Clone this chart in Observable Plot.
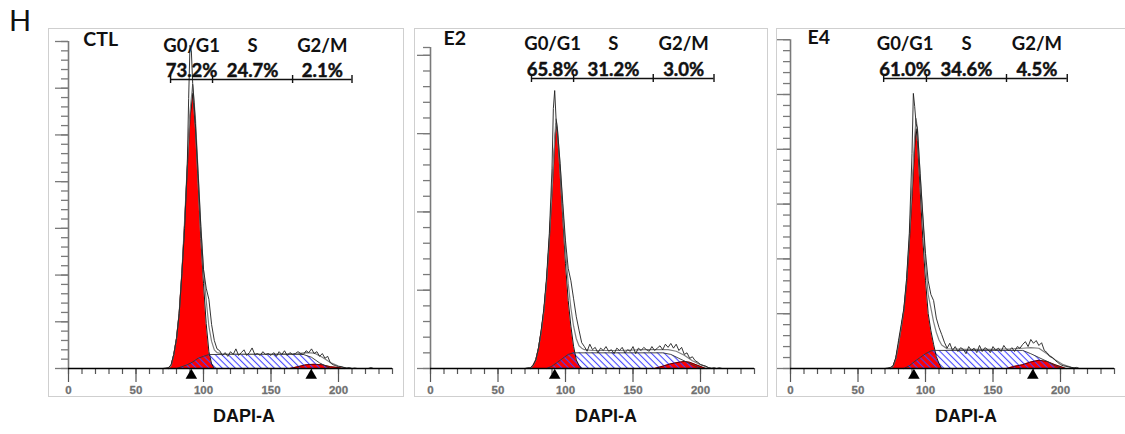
<!DOCTYPE html>
<html>
<head>
<meta charset="utf-8">
<script src="https://cdn.jsdelivr.net/npm/d3@7"></script>
<script src="https://cdn.jsdelivr.net/npm/@observablehq/plot@0.6"></script>
<style>
  body { margin: 0; background: #fff; }
  #fig { position: relative; width: 1125px; height: 434px; overflow: hidden; background: #fff; }
  #title { position: absolute; left: 9px; top: 5px; font: 29px Lato, "Open Sans", sans-serif; line-height: 29px; color: #111; }
  .frame { position: absolute; top: 28px; height: 369px; border: 1px solid #cfcfcf; box-sizing: border-box; }
  .panel { position: absolute; top: 28px; }
</style>
</head>
<body>
<svg width="0" height="0" style="position:absolute">
  <defs>
    <!-- S-phase hatching: thin blue diagonals -->
    <pattern id="sHatch" patternUnits="userSpaceOnUse" width="4.6" height="4.6" patternTransform="rotate(-45)">
      <line x1="2.3" y1="0" x2="2.3" y2="4.6" stroke="#4343ff" stroke-width="1.1"></line>
    </pattern>
  </defs>
</svg>
<div id="fig"><div id="title">H</div></div>
<script>
// ---- Cell-cycle DAPI histograms (DAPI-A channel vs. cell count) ----
const sampleNames = ["CTL", "E2", "E4"];
const phaseNames = ["G0/G1", "S", "G2/M"];
const xTickLabels = [0, 50, 100, 150, 200];
const xMinorTicks = d3.range(0, 241, 10);

// CTL
const ctlPercents = ["73.2%", "24.7%", "2.1%"];
const ctlGates = [75.6, 106.7, 166, 210];
const ctlPeaks = [91, 179.8];
const ctlRaw = [[0,0],[70,0],[72,0.5],[74,1],[76,4],[78,15],[80,32],[82,59],[84,102],[86,150],[88,219],[89,289],[90,346],[91,340],[92,305],[93,285],[94,262],[96,209],[98,152],[100,106],[102,86],[104,74],[106,47],[108,30],[110,21],[112,19],[114,14],[116,17],[118,13],[120,18],[122,15],[124,21],[126,14],[128,17],[130,20],[132,14],[134,17],[136,22],[138,15],[140,16],[142,14],[144,18],[146,15],[148,16],[150,14],[152,17],[154,13],[156,18],[158,15],[160,19],[162,14],[164,17],[166,15],[168,16],[170,18],[172,16],[174,15],[176,19],[178,17],[180,21],[182,16],[184,18],[186,13],[188,16],[190,11],[192,13],[194,6],[196,4],[198,3],[200,2],[202,2],[204,1],[206,0.5],[208,1],[210,0],[212,0.5],[214,0],[222,0],[224,1],[226,0],[240,0]];
const ctlFit = [[74,0],[76,3],[78,15],[80,32],[82,60],[84,103],[86,158],[88,218],[90,275],[92,304],[94,268],[96,210],[98,152],[100,105],[102,73],[104,45],[106,29],[108,20],[110,17],[114,15.5],[130,15.5],[150,15.5],[170,16],[176,17],[182,16.5],[188,12],[194,6.5],[200,2.7],[206,0.5],[210,0]];
const ctlG1 = [[74,0],[76,3],[78,15],[80,32],[82,59],[84,102],[86,155],[88,214],[90,268],[92,295],[94,257],[96,198],[98,139],[100,91],[102,48],[104,18],[106,5],[108,0]];
const ctlS = [[80,0],[84,2],[88,4],[92,7],[96,11],[100,13],[104,15],[174,15],[180,12],[186,6],[190,3],[194,0]];
const ctlG2 = [[164,0],[170,2],[176,4],[182,4.5],[188,4],[194,2],[200,1],[204,0]];

// E2
const e2Percents = ["65.8%", "31.2%", "3.0%"];
const e2Gates = [74.8, 106, 165, 210];
const e2Peaks = [92];
const e2Raw = [[0,0],[70,0],[72,1],[74,1],[76,4],[78,11],[80,26],[82,49],[84,77],[86,117],[88,172],[90,255],[91,332],[92,355],[93,319],[94,306],[96,262],[98,211],[100,163],[102,128],[104,112],[106,89],[108,66],[110,49],[112,33],[114,28],[116,22],[118,31],[120,24],[122,27],[124,20],[126,26],[128,23],[130,28],[132,22],[134,24],[136,19],[138,26],[140,23],[142,27],[144,20],[146,24],[148,22],[150,28],[152,19],[154,26],[156,23],[158,27],[160,24],[162,22],[164,28],[166,23],[168,26],[170,29],[172,24],[174,31],[176,27],[178,32],[180,26],[182,31],[184,23],[186,27],[188,18],[190,20],[192,13],[194,15],[196,10],[198,8],[200,5],[202,4],[204,3],[206,1],[208,0],[210,1],[212,0],[214,1],[216,0],[240,0]];
const e2Fit = [[74,0],[76,4],[78,11],[80,26],[82,47],[84,74],[86,112],[88,166],[90,227],[92,294],[93,319],[94,306],[96,259],[98,204],[100,151],[102,109],[104,77],[106,54],[108,38],[110,29],[112,26],[114,24],[120,23],[140,23],[160,24],[170,24],[176,24],[182,22],[188,17],[194,10],[200,5],[206,1],[210,0]];
const e2G1 = [[74,0],[76,4],[78,11],[80,26],[82,47],[84,74],[86,112],[88,163],[90,223],[92,287],[93,313],[94,300],[96,249],[98,192],[100,134],[102,87],[104,54],[106,28],[108,11],[110,4],[112,0]];
const e2S = [[86,0],[90,3],[94,8],[98,13],[102,18],[106,20],[172,20],[178,18],[184,13],[190,8],[196,3],[201,0]];
const e2G2 = [[166,0],[172,3],[178,6],[184,8],[188,9],[192,8],[198,4],[204,0]];

// E4
const e4Percents = ["61.0%", "34.6%", "4.5%"];
const e4Gates = [69, 100.7, 160, 205];
const e4Peaks = [91.4, 179.5];
const e4Raw = [[0,0],[70,0],[72,1],[74,2],[76,5],[78,20],[80,51],[82,80],[84,110],[86,164],[88,246],[90,392],[91,502],[92,478],[93,447],[94,438],[96,356],[98,280],[100,210],[102,160],[104,135],[106,124],[108,92],[110,75],[112,62],[114,48],[116,37],[118,46],[120,33],[122,40],[124,31],[126,38],[128,35],[130,27],[132,40],[134,33],[136,37],[138,29],[140,42],[142,31],[144,38],[146,35],[148,29],[150,40],[152,33],[154,37],[156,31],[158,42],[160,35],[162,33],[164,38],[166,31],[168,40],[170,37],[172,44],[174,49],[176,40],[178,53],[180,46],[182,51],[184,42],[186,47],[188,33],[190,29],[192,22],[194,20],[196,15],[198,11],[200,7],[202,5],[204,4],[206,3],[208,2],[210,1],[212,2],[214,0],[240,0]];
const e4Fit = [[74,0],[76,4],[78,18],[80,44],[82,75],[84,108],[86,161],[88,237],[90,329],[92,423],[93,456],[94,438],[96,356],[98,274],[100,192],[102,135],[104,110],[106,85],[108,66],[110,52],[112,43],[116,36],[130,35],[150,35],[165,36],[172,37],[178,38],[184,37],[190,27],[196,16],[202,7],[208,2],[212,0]];
const e4G1 = [[74,0],[76,4],[78,18],[80,44],[82,73],[84,106],[86,155],[88,228],[90,314],[92,405],[93,438],[94,416],[96,329],[98,237],[100,161],[102,100],[104,69],[106,44],[108,22],[110,9],[112,0]];
const e4S = [[84,0],[88,5],[92,13],[96,20],[100,27],[104,32],[106,33],[172,33],[178,27],[184,20],[190,13],[196,5],[201,0]];
const e4G2 = [[160,0],[166,4],[172,7],[178,12],[184,15],[190,13],[196,7],[202,2],[204,0]];

// Panel layout (pixels) and per-panel count scale
const panels = [
  {name: sampleNames[0], raw: ctlRaw, fit: ctlFit, g1: ctlG1, s: ctlS, g2: ctlG2, gates: ctlGates, peaks: ctlPeaks, percents: ctlPercents,
   yMax: 350, yStep: 10, yMajor: 50,
   left: 48, width: 355, frameWidth: 356, marginLeft: 20, marginRight: 11, marginTop: 13,
   nameX: 11, nameY: 3.7, headY: 10, pctY: 35.5, bracketY: 51},
  {name: sampleNames[1], raw: e2Raw, fit: e2Fit, g1: e2G1, s: e2S, g2: e2G2, gates: e2Gates, peaks: e2Peaks, percents: e2Percents,
   yMax: 410, yStep: 20, yMajor: 100,
   left: 414, width: 353, frameWidth: 354, marginLeft: 16, marginRight: 13, marginTop: 19,
   nameX: 9.6, nameY: 2.7, headY: 8.5, pctY: 34.5, bracketY: 50},
  {name: sampleNames[2], raw: e4Raw, fit: e4Fit, g1: e4G1, s: e4S, g2: e4G2, gates: e4Gates, peaks: e4Peaks, percents: e4Percents,
   yMax: 600, yStep: 20, yMajor: 100,
   left: 776, width: 349, frameWidth: 360, marginLeft: 14, marginRight: 11, marginTop: 11.2,
   nameX: 12.6, nameY: 2, headY: 8, pctY: 34.5, bracketY: 50}
];

const HEIGHT = 406;      // svg height (frame top to bottom of page)
const BASE = 340;        // y of the zero-count baseline inside the svg
const X = d => d[0], Y = d => d[1];

function histogramPanel(p) {
  const k = (BASE - p.marginTop) / p.yMax;              // pixels per count
  const bracketC = (BASE - p.bracketY) / k;
  const tickC = 4 / k;
  const mids = phaseNames.map((_, i) => (p.gates[i] + p.gates[i + 1]) / 2);
  const header = phaseNames.map((name, i) => ({name, pct: p.percents[i], x: mids[i]}));
  const yMinor = d3.range(0, p.yMax + 0.001, p.yStep);
  if (yMinor[yMinor.length - 1] !== p.yMax) yMinor.push(p.yMax);
  const yMajor = d3.range(0, p.yMax + 0.001, p.yMajor);
  const sans = "Lato, 'Open Sans', sans-serif";

  return Plot.plot({
    width: p.width,
    height: HEIGHT,
    marginLeft: p.marginLeft,
    marginRight: p.marginRight,
    marginTop: p.marginTop,
    marginBottom: HEIGHT - BASE,
    x: {domain: [0, 240], axis: null},
    y: {domain: [0, p.yMax], axis: null},
    style: {background: "transparent", overflow: "visible", fontFamily: "'Liberation Sans', Arial, sans-serif", fontSize: "11.5px", fontWeight: "bold"},
    marks: [
      // fitted model components
      Plot.areaY(p.g1, {x: X, y: Y, fill: "#ff0000"}),
      Plot.areaY(p.g2, {x: X, y: Y, fill: "#ff0000"}),
      Plot.areaY(p.s, {x: X, y: Y, fill: "url(#sHatch)"}),
      Plot.lineY(p.g1, {x: X, y: Y, stroke: "#000", strokeWidth: 0.9}),
      Plot.lineY(p.g2, {x: X, y: Y, stroke: "#300", strokeWidth: 0.8}),
      Plot.lineY(p.s, {x: X, y: Y, stroke: "#333", strokeWidth: 0.9}),
      // model sum and measured histogram
      Plot.lineY(p.fit, {x: X, y: Y, stroke: "#808080", strokeWidth: 1.2}),
      Plot.lineY(p.raw, {x: X, y: Y, stroke: "#1e1e1e", strokeWidth: 0.9}),
      // axes
      Plot.axisY(yMinor, {anchor: "left", tickSize: 7, stroke: "#7a7a7a", strokeWidth: 1.3, tickFormat: () => "", label: null}),
      Plot.axisY(yMajor, {anchor: "left", tickSize: 13, stroke: "#7a7a7a", strokeWidth: 1.3, tickFormat: () => "", label: null}),
      Plot.ruleX([0], {stroke: "#7a7a7a", strokeWidth: 1.6}),
      Plot.axisX(xMinorTicks, {tickSize: 6, stroke: "#555", strokeWidth: 1.2, tickFormat: () => "", label: null}),
      Plot.axisX(xTickLabels, {tickSize: 14, tickPadding: 3, stroke: "#555", strokeWidth: 1.2, fill: "#707070", textStroke: "#808080", textStrokeWidth: 0.3, label: null}),
      Plot.ruleY([0], {stroke: "#000", strokeWidth: 1.6}),
      // peak markers
      Plot.dot(p.peaks, {x: d => d, frameAnchor: "bottom", symbol: "triangle", r: 4.3, fill: "#000", stroke: null, dy: 7}),
      // phase gate bracket
      Plot.ruleY([bracketC], {x1: p.gates[0], x2: p.gates[3], stroke: "#111", strokeWidth: 1.6}),
      Plot.ruleX(p.gates, {x: d => d, y1: bracketC - tickC, y2: bracketC + tickC, stroke: "#111", strokeWidth: 1.4}),
      // phase names and percentages
      Plot.text(header, {x: "x", text: "name", frameAnchor: "top", lineAnchor: "top", dy: p.headY - p.marginTop, fontSize: 18.5, fontFamily: sans, fontWeight: "bold", fill: "#111"}),
      Plot.text(header, {x: "x", text: "pct", frameAnchor: "top", lineAnchor: "top", dy: p.pctY - p.marginTop, fontSize: 18.5, fontFamily: sans, fontWeight: "bold", fill: "#111", stroke: "#111", strokeWidth: 0.45}),
      // sample name
      Plot.text([p.name], {x: p.nameX, text: d => d, frameAnchor: "top", lineAnchor: "top", textAnchor: "start", dy: p.nameY - p.marginTop, fontSize: 19.5, fontFamily: sans, fontWeight: "bold", fill: "#111"}),
      // channel label
      Plot.text(["DAPI-A"], {x: 130, text: d => d, frameAnchor: "bottom", lineAnchor: "middle", dy: 48, fontSize: 18, fontWeight: "bold", fill: "#111", fontFamily: "'Liberation Sans', Arial, sans-serif"})
    ]
  });
}

const fig = document.getElementById("fig");
for (const p of panels) {
  const frame = document.createElement("div");
  frame.className = "frame";
  frame.style.left = p.left + "px";
  frame.style.width = p.frameWidth + "px";
  fig.appendChild(frame);
  const svg = histogramPanel(p);
  svg.classList.add("panel");
  svg.style.position = "absolute";
  svg.style.left = p.left + "px";
  svg.style.top = "28px";
  fig.appendChild(svg);
}
</script>
</body>
</html>
